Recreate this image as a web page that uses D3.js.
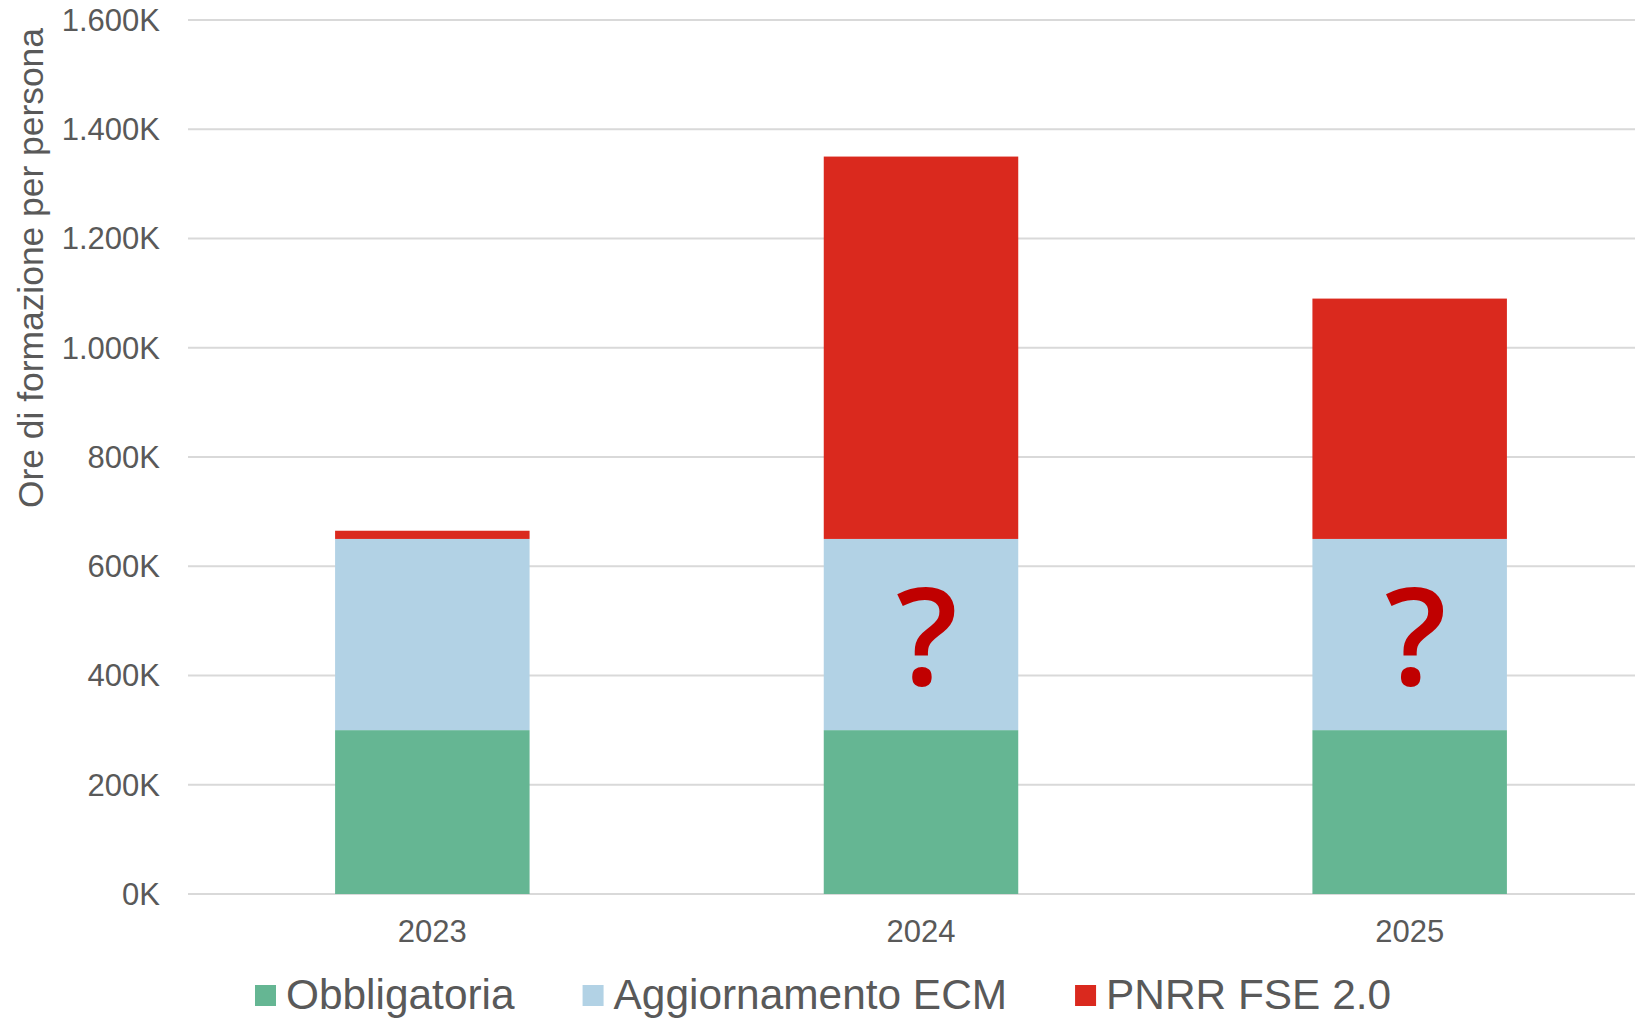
<!DOCTYPE html>
<html>
<head>
<meta charset="utf-8">
<script src="https://cdn.jsdelivr.net/npm/d3@7"></script>
<style>
  html, body { margin: 0; padding: 0; background: #fff; }
  svg { display: block; }
</style>
</head>
<body>
<svg id="chart" width="1635" height="1020"></svg>
<script>
// ---- data ----
const categories = ["2023", "2024", "2025"];
const seriesNames = ["Obbligatoria", "Aggiornamento ECM", "PNRR FSE 2.0"];
const obbligatoria = [300000, 300000, 300000];
const aggiornamentoECM = [350000, 350000, 350000];
const pnrrFSE = [15000, 700000, 440000];
const seriesColors = ["#65B693", "#B2D2E5", "#DA291E"];
const yTicks = [0, 200000, 400000, 600000, 800000, 1000000, 1200000, 1400000, 1600000];
const yTickLabels = ["0K", "200K", "400K", "600K", "800K", "1.000K", "1.200K", "1.400K", "1.600K"];
const questionCats = ["2024", "2025"];
const yTitle = "Ore di formazione per persona";

// ---- build table ----
const table = categories.map((c, i) => ({
  cat: c,
  "Obbligatoria": obbligatoria[i],
  "Aggiornamento ECM": aggiornamentoECM[i],
  "PNRR FSE 2.0": pnrrFSE[i]
}));
const stack = d3.stack().keys(seriesNames)(table);

const svg = d3.select("#chart");
const textColor = "#595959";
const font = "'Liberation Sans', Arial, Helvetica, sans-serif";

const x = d3.scaleBand().domain(categories).range([188, 1654]).padding(0);
const y = d3.scaleLinear().domain([0, 1600000]).range([894, 20]);
const barW = x.bandwidth() * 0.398;
const color = d3.scaleOrdinal().domain(seriesNames).range(seriesColors);

// gridlines
svg.append("g").selectAll("line").data(yTicks).join("line")
  .attr("x1", 188).attr("x2", 1654)
  .attr("y1", d => y(d)).attr("y2", d => y(d))
  .attr("stroke", "#D9D9D9").attr("stroke-width", 2);

// y tick labels
svg.append("g").selectAll("text").data(yTicks).join("text")
  .attr("x", 160).attr("y", d => y(d)).attr("dy", "0.35em")
  .attr("text-anchor", "end")
  .attr("font-family", font).attr("font-size", 31)
  .attr("fill", textColor)
  .text((d, i) => yTickLabels[i]);

// bars
svg.append("g").selectAll("g").data(stack).join("g")
  .attr("fill", d => color(d.key))
  .selectAll("rect").data(d => d).join("rect")
  .attr("x", d => x(d.data.cat) + x.bandwidth() / 2 - barW / 2)
  .attr("width", barW)
  .attr("y", d => y(d[1]))
  .attr("height", d => y(d[0]) - y(d[1]));

// question marks on ECM segment
const ecmLayer = stack[1];
svg.append("g").selectAll("text")
  .data(ecmLayer.filter(d => questionCats.includes(d.data.cat))).join("text")
  .attr("x", d => x(d.data.cat) + x.bandwidth() / 2 + 6)
  .attr("y", d => (y(d[0]) + y(d[1])) / 2 + 50)
  .attr("text-anchor", "middle")
  .attr("font-family", "'Open Sans', 'DejaVu Sans', sans-serif")
  .attr("font-weight", 600)
  .attr("font-size", 136)
  .attr("fill", "#C00000")
  .text("?");

// x labels
svg.append("g").selectAll("text").data(categories).join("text")
  .attr("x", d => x(d) + x.bandwidth() / 2)
  .attr("y", 942)
  .attr("text-anchor", "middle")
  .attr("font-family", font).attr("font-size", 31)
  .attr("fill", textColor)
  .text(d => d);

// y title
svg.append("text")
  .attr("transform", "translate(43,268) rotate(-90)")
  .attr("text-anchor", "middle")
  .attr("font-family", font).attr("font-size", 35.4)
  .attr("fill", textColor)
  .text(yTitle);

// legend
const legend = svg.append("g");
let lx = 255;
seriesNames.forEach((name, i) => {
  legend.append("rect")
    .attr("x", lx).attr("y", 985).attr("width", 21).attr("height", 21)
    .attr("fill", seriesColors[i]);
  const t = legend.append("text")
    .attr("x", lx + 31).attr("y", 1009)
    .attr("font-family", font).attr("font-size", 42.4)
    .attr("fill", textColor)
    .text(name);
  lx = lx + 31 + t.node().getComputedTextLength() + 68;
});
</script>
</body>
</html>
